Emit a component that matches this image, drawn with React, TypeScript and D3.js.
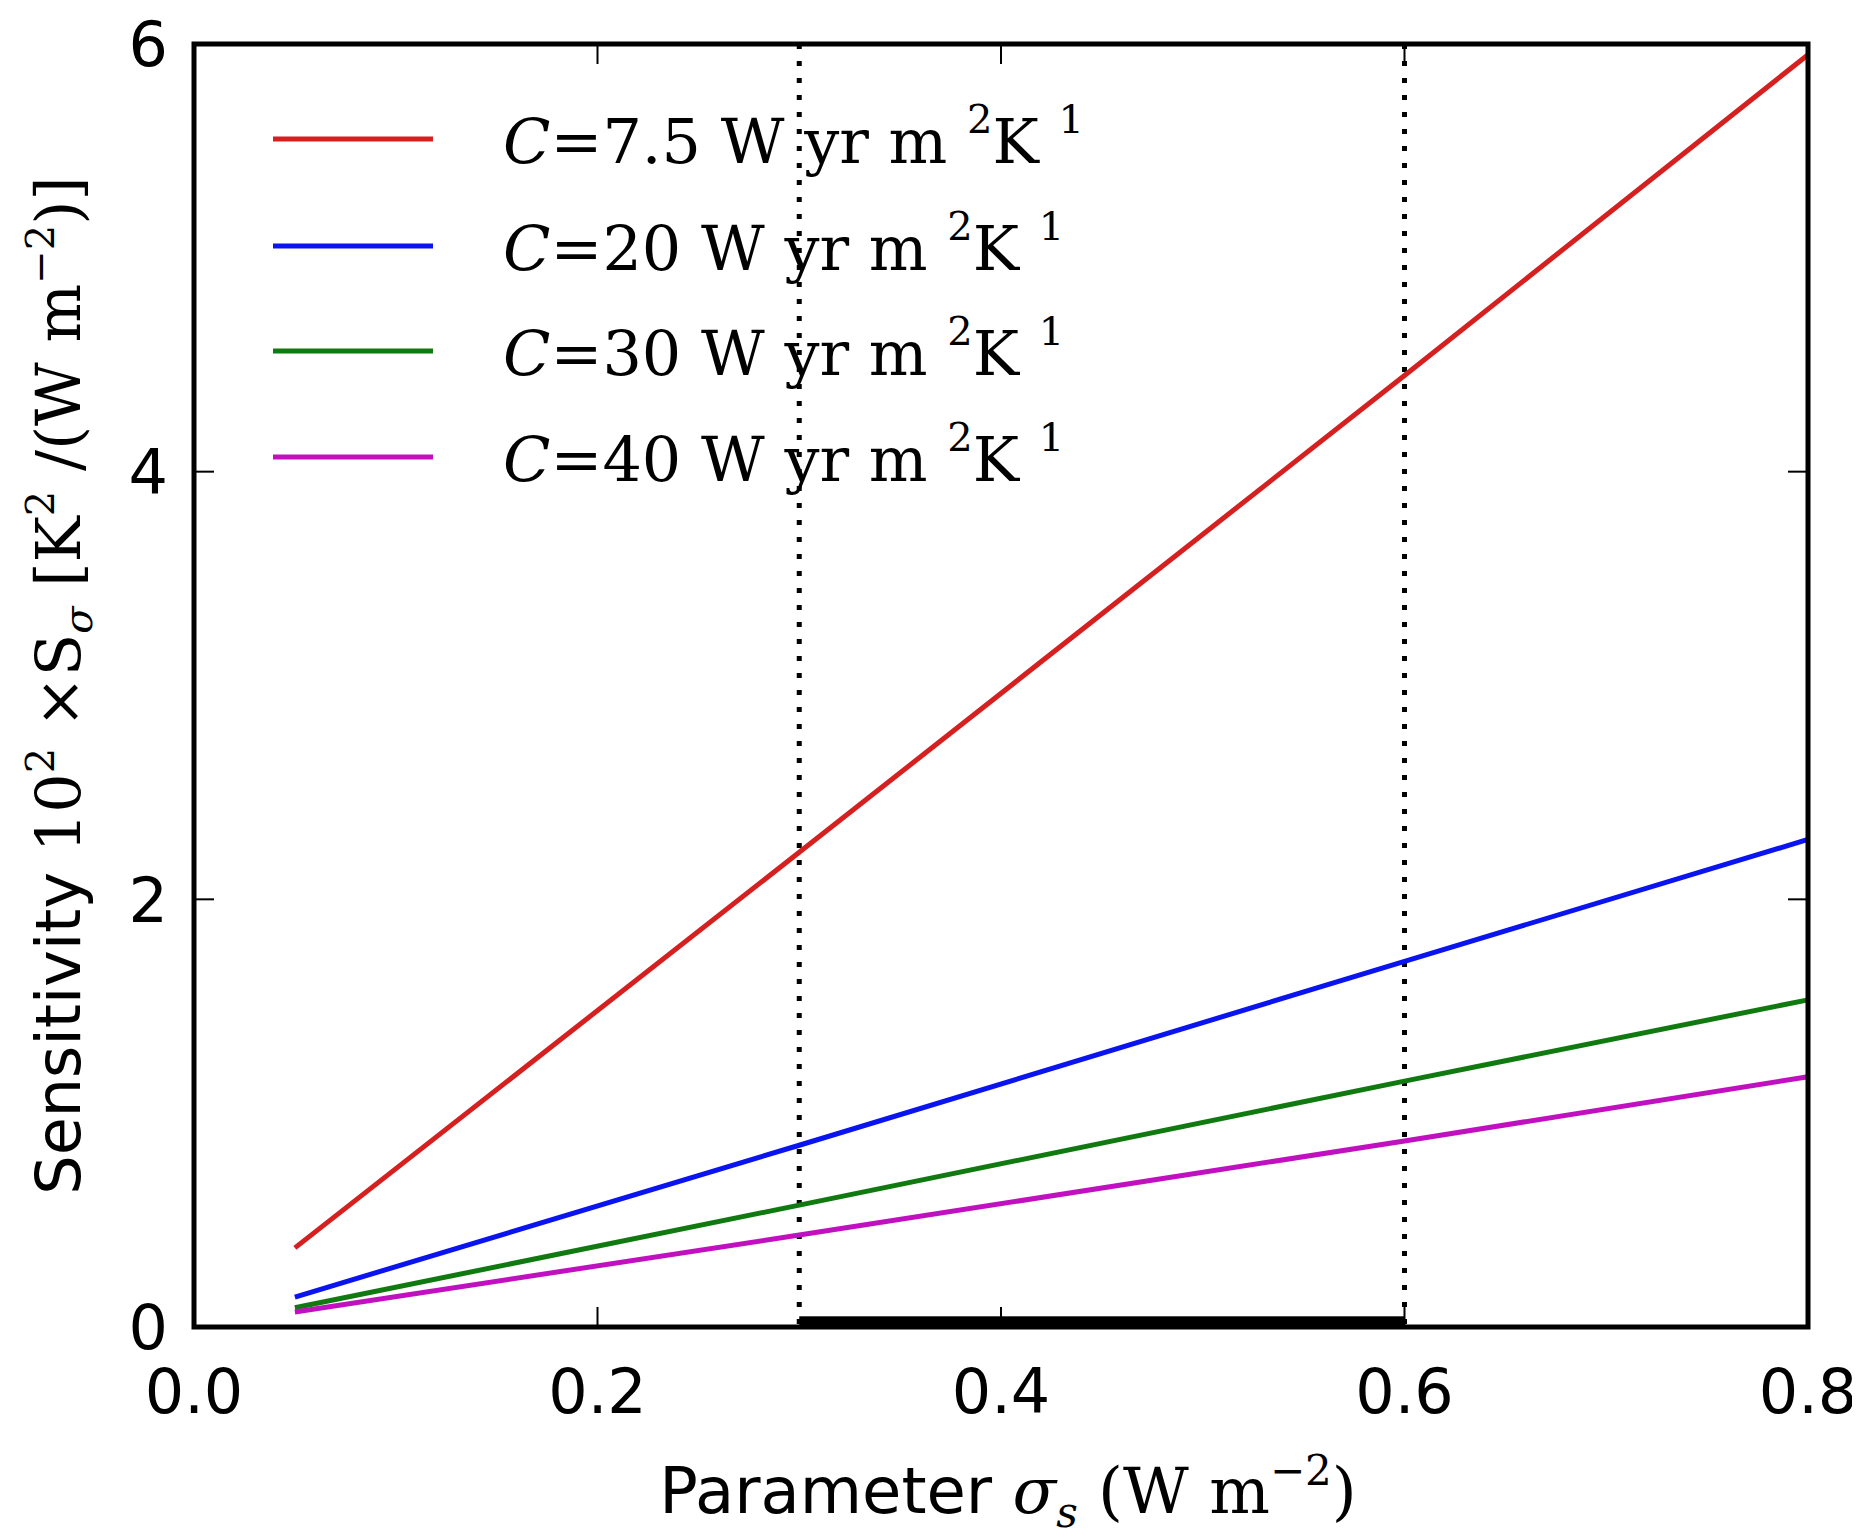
import { useEffect, useRef } from 'react'
import * as d3 from 'd3'

const sigma = [0.05, 0.3, 0.6, 0.8]
const seriesNames = ['7.5', '20', '30', '40']
const seriesColors = ['#d62020', '#0a14f0', '#107a10', '#c010c0']
const red = [0.37, 2.22, 4.45, 5.95]
const blue = [0.14, 0.85, 1.71, 2.28]
const green = [0.09, 0.57, 1.15, 1.53]
const magenta = [0.07, 0.43, 0.87, 1.17]
const xTicks = [0.0, 0.2, 0.4, 0.6, 0.8]
const yTicks = [0, 2, 4, 6]
const markers = [0.3, 0.6]
const band = { from: 0.3, to: 0.6, height: 0.05 }

const W = 1860
const H = 1537
const m = { left: 186, right: 60, top: 36, bottom: 218 }

export default function App() {
  const svgRef = useRef<SVGSVGElement>(null)

  useEffect(() => {
    if (!svgRef.current) return
    const svg = d3.select(svgRef.current)
    svg.selectAll('*').remove()

    const x = d3.scaleLinear().domain([0, 0.8]).range([m.left, W - m.right])
    const y = d3.scaleLinear().domain([0, 6]).range([H - m.bottom, m.top])
    const sans = 'DejaVu Sans'
    const serif = 'DejaVu Serif'

    // band on the x axis
    svg.append('rect')
      .attr('x', x(band.from)).attr('y', y(band.height))
      .attr('width', x(band.to) - x(band.from))
      .attr('height', y(0) - y(band.height))
      .attr('fill', 'black')

    markers.forEach(v => {
      svg.append('line')
        .attr('x1', x(v)).attr('x2', x(v))
        .attr('y1', y(6)).attr('y2', y(0))
        .attr('stroke', 'black').attr('stroke-width', 5)
        .attr('stroke-dasharray', '5 12')
    })

    const all = [red, blue, green, magenta]
    const line = d3.line<number>().x((_, i) => x(sigma[i])).y(d => y(d))
    all.forEach((vals, i) => {
      svg.append('path').attr('d', line(vals)!)
        .attr('fill', 'none').attr('stroke', seriesColors[i]).attr('stroke-width', 5)
    })

    // frame
    svg.append('rect')
      .attr('x', m.left).attr('y', m.top)
      .attr('width', W - m.left - m.right).attr('height', H - m.top - m.bottom)
      .attr('fill', 'none').attr('stroke', 'black').attr('stroke-width', 5)

    const tl = 20
    xTicks.forEach(t => {
      svg.append('line').attr('x1', x(t)).attr('x2', x(t)).attr('y1', y(0)).attr('y2', y(0) - tl).attr('stroke', 'black').attr('stroke-width', 2)
      svg.append('line').attr('x1', x(t)).attr('x2', x(t)).attr('y1', y(6)).attr('y2', y(6) + tl).attr('stroke', 'black').attr('stroke-width', 2)
      svg.append('text').attr('x', x(t)).attr('y', 1405).attr('text-anchor', 'middle')
        .attr('font-family', sans).attr('font-size', 62).text(t.toFixed(1))
    })
    yTicks.forEach(t => {
      svg.append('line').attr('x1', x(0)).attr('x2', x(0) + tl).attr('y1', y(t)).attr('y2', y(t)).attr('stroke', 'black').attr('stroke-width', 2)
      svg.append('line').attr('x1', x(0.8)).attr('x2', x(0.8) - tl).attr('y1', y(t)).attr('y2', y(t)).attr('stroke', 'black').attr('stroke-width', 2)
      svg.append('text').attr('x', 160).attr('y', y(t)).attr('dy', '0.36em').attr('text-anchor', 'end')
        .attr('font-family', sans).attr('font-size', 62).text(String(t))
    })

    // legend
    const rows = [131, 238, 343, 449]
    seriesNames.forEach((n, i) => {
      svg.append('line').attr('x1', 265).attr('x2', 425).attr('y1', rows[i]).attr('y2', rows[i])
        .attr('stroke', seriesColors[i]).attr('stroke-width', 5)
      const t = svg.append('text').attr('x', 495).attr('y', rows[i] + 24)
        .attr('font-family', serif).attr('font-size', 62)
      t.append('tspan').attr('font-style', 'italic').text('C')
      t.append('tspan').text(`=${n} W yr m `)
      t.append('tspan').attr('dy', -30).attr('font-size', 40).text(' 2')
      t.append('tspan').attr('dy', 30).text('K  ')
      t.append('tspan').attr('dy', -30).attr('font-size', 40).text('1')
    })

    // axis labels
    const xl = svg.append('text').attr('x', 1000).attr('y', 1505).attr('text-anchor', 'middle')
      .attr('font-family', sans).attr('font-size', 64)
    xl.append('tspan').text('Parameter ')
    xl.append('tspan').attr('font-family', serif).attr('font-style', 'italic').text('σ')
    xl.append('tspan').attr('font-family', serif).attr('font-style', 'italic').attr('font-size', 42).attr('dy', 14).text('s')
    xl.append('tspan').attr('font-family', serif).attr('dy', -14).text(' (W m')
    xl.append('tspan').attr('font-family', serif).attr('font-size', 42).attr('dy', -28).text('−2')
    xl.append('tspan').attr('font-family', serif).attr('dy', 28).text(')')

    const yl = svg.append('text').attr('transform', `translate(72, ${(m.top + H - m.bottom) / 2}) rotate(-90)`)
      .attr('text-anchor', 'middle').attr('font-family', sans).attr('font-size', 62)
    yl.append('tspan').text('Sensitivity ')
    yl.append('tspan').attr('font-family', serif).text('10')
    yl.append('tspan').attr('font-family', serif).attr('font-size', 40).attr('dy', -26).text('2')
    yl.append('tspan').attr('font-family', serif).attr('dy', 26).text(' ×S')
    yl.append('tspan').attr('font-family', serif).attr('font-style', 'italic').attr('font-size', 40).attr('dy', 12).text('σ')
    yl.append('tspan').attr('font-family', serif).attr('dy', -12).text(' [K')
    yl.append('tspan').attr('font-family', serif).attr('font-size', 40).attr('dy', -26).text('2')
    yl.append('tspan').attr('font-family', serif).attr('dy', 26).text(' /(W m')
    yl.append('tspan').attr('font-family', serif).attr('font-size', 40).attr('dy', -26).text('−2')
    yl.append('tspan').attr('font-family', serif).attr('dy', 26).text(')]')
  }, [])

  return <svg ref={svgRef} width={W} height={H} style={{ display: 'block', background: 'white' }} />
}
